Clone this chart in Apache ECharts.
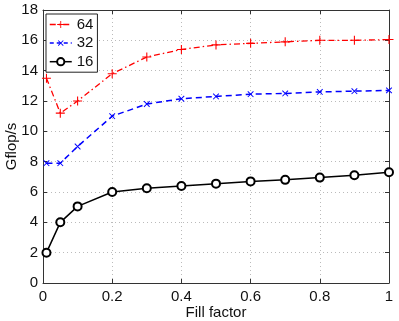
<!DOCTYPE html>
<html>
<head>
<meta charset="utf-8">
<script src="https://cdn.jsdelivr.net/npm/echarts@6/dist/echarts.min.js"></script>
<style>
  html, body { margin: 0; padding: 0; background: #fff; }
  #chart { width: 399px; height: 321px; }
</style>
</head>
<body>
<div id="chart"></div>
<script>
// fill factor on the x axis
var fillFactor = [0.01, 0.05, 0.1, 0.2, 0.3, 0.4, 0.5, 0.6, 0.7, 0.8, 0.9, 1.0];
var s64 = [13.5, 11.2, 12.0, 13.8, 14.9, 15.4, 15.7, 15.8, 15.9, 16.0, 16.0, 16.05];
var s32 = [7.9, 7.9, 9.0, 11.0, 11.8, 12.15, 12.3, 12.45, 12.5, 12.6, 12.65, 12.7];
var s16 = [2.0, 4.0, 5.05, 6.0, 6.25, 6.4, 6.55, 6.7, 6.8, 6.95, 7.1, 7.3];
var seriesNames = ['64', '32', '16'];
var xTicks = [0, 0.2, 0.4, 0.6, 0.8, 1];
var yTicks = [0, 2, 4, 6, 8, 10, 12, 14, 16, 18];

function pairs(vals) {
  return fillFactor.map(function (x, i) { return [x, vals[i]]; });
}

var chart = echarts.init(document.getElementById('chart'));
var font = 'Liberation Sans, Arial, sans-serif';
var plus = 'path://M-1,-0.12H1V0.12H-1Z M-0.12,-1H0.12V1H-0.12Z';
var dashDot = [6, 3, 1.5, 3];
var dashed = [6, 4];

var gridLine = { show: true, lineStyle: { color: '#bbb', type: [1, 3], width: 1 } };
var frame = { show: true, onZero: false, lineStyle: { color: '#333', width: 1 } };
var label = { color: '#111', fontSize: 15, fontFamily: font };
var ticks = { show: true, inside: true, length: 4, lineStyle: { color: '#333' } };

var option = {
  animation: false,
  backgroundColor: '#fff',
  grid: { left: 43, right: 10, top: 10, bottom: 38, outerBoundsMode: 'none', containLabel: false },
  legend: {
    orient: 'vertical',
    left: 46,
    top: 14,
    padding: [3, 4, 3, 3],
    itemGap: 3.6,
    itemWidth: 22,
    itemHeight: 9,
    borderColor: '#222',
    borderWidth: 1,
    backgroundColor: '#fff',
    textStyle: { color: '#111', fontSize: 15, fontFamily: font },
    data: [
      { name: seriesNames[0], lineStyle: { type: dashDot, width: 1.3 } },
      { name: seriesNames[1], lineStyle: { type: [4, 3], width: 1.5 } },
      { name: seriesNames[2], lineStyle: { type: 'solid', width: 1.5 } }
    ]
  },
  xAxis: [{
    type: 'value', min: 0, max: 1, interval: 0.2,
    name: 'Fill factor', nameLocation: 'middle', nameGap: 22, nameMoveOverlap: false,
    nameTextStyle: { color: '#111', fontSize: 15, fontFamily: font },
    axisLine: frame,
    axisTick: ticks,
    axisLabel: Object.assign({ margin: 6, formatter: function (v) { return xTicks.indexOf(+v.toFixed(1)) >= 0 ? String(+v.toFixed(1)) : ''; } }, label),
    splitLine: gridLine
  }, {
    type: 'value', min: 0, max: 1, interval: 0.2, position: 'top',
    axisLine: frame,
    axisTick: ticks,
    axisLabel: { show: false },
    splitLine: { show: false }
  }],
  yAxis: [{
    type: 'value', min: 0, max: 18, interval: 2,
    name: 'Gflop/s', nameLocation: 'middle', nameGap: 24, nameMoveOverlap: false,
    nameTextStyle: { color: '#111', fontSize: 15, fontFamily: font },
    axisLine: frame,
    axisTick: ticks,
    axisLabel: Object.assign({ margin: 5, formatter: function (v) { return yTicks.indexOf(v) >= 0 ? String(v) : ''; } }, label),
    splitLine: gridLine
  }, {
    type: 'value', min: 0, max: 18, interval: 2, position: 'right',
    axisLine: frame,
    axisTick: ticks,
    axisLabel: { show: false },
    splitLine: { show: false }
  }],
  series: [{
    name: seriesNames[0], type: 'line', data: pairs(s64),
    symbol: plus, symbolSize: 9, showAllSymbol: true,
    itemStyle: { color: '#ff0000' },
    lineStyle: { color: '#ff0000', width: 1.3, type: dashDot }
  }, {
    name: seriesNames[1], type: 'line', data: pairs(s32),
    symbol: plus, symbolSize: 8, symbolRotate: 45, showAllSymbol: true,
    itemStyle: { color: '#0000ff' },
    lineStyle: { color: '#0000ff', width: 1.5, type: dashed }
  }, {
    name: seriesNames[2], type: 'line', data: pairs(s16),
    symbol: 'emptyCircle', symbolSize: 8, showAllSymbol: true,
    itemStyle: { color: '#000', borderColor: '#000', borderWidth: 1.4 },
    lineStyle: { color: '#000', width: 1.5 }
  }]
};

chart.setOption(option);
</script>
</body>
</html>
